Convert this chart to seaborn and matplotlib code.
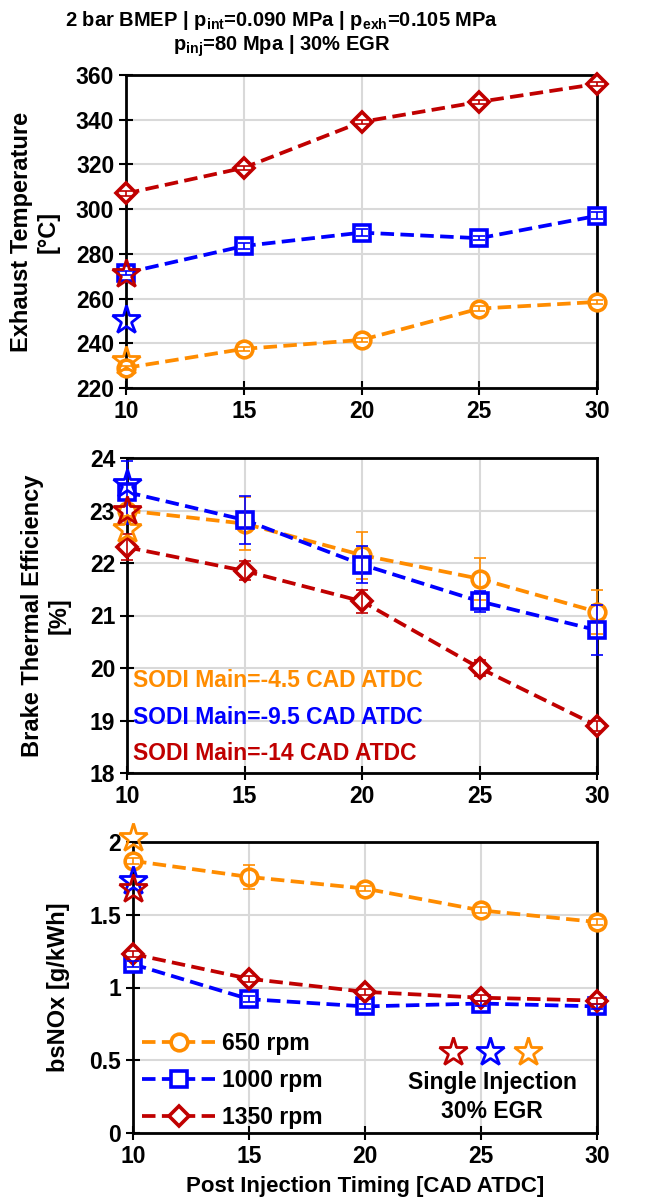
import numpy as np
import pandas as pd
import matplotlib
matplotlib.use("Agg")
import matplotlib.pyplot as plt
from matplotlib.lines import Line2D
from matplotlib.ticker import FuncFormatter
import seaborn as sns

# ---------------- data ----------------
timing = [10, 15, 20, 25, 30]
speeds = ["650 rpm", "1000 rpm", "1350 rpm"]

exh_650 = [229.0, 237.5, 241.5, 255.5, 258.5]
exh_1000 = [271.5, 283.5, 289.5, 287.0, 297.0]
exh_1350 = [307.0, 318.5, 339.0, 348.0, 356.0]
exh_err_650 = [1.0, 1.0, 1.0, 1.0, 1.0]
exh_err_1000 = [1.0, 1.5, 1.5, 1.0, 1.5]
exh_err_1350 = [1.0, 1.0, 1.0, 1.0, 1.0]
exh_single = [232.0, 250.5, 271.0]  # 650, 1000, 1350 rpm

bte_650 = [23.0, 22.75, 22.15, 21.7, 21.07]
bte_1000 = [23.35, 22.82, 21.97, 21.27, 20.72]
bte_1350 = [22.3, 21.85, 21.27, 20.0, 18.9]
bte_err_650 = [0.1, 0.5, 0.45, 0.4, 0.42]
bte_err_1000 = [0.6, 0.45, 0.35, 0.2, 0.48]
bte_err_1350 = [0.25, 0.18, 0.22, 0.15, 0.1]
bte_single = [22.65, 23.5, 23.0]

nox_650 = [1.87, 1.76, 1.68, 1.53, 1.45]
nox_1000 = [1.16, 0.92, 0.87, 0.89, 0.87]
nox_1350 = [1.23, 1.06, 0.97, 0.93, 0.91]
nox_err_650 = [0.02, 0.08, 0.02, 0.02, 0.02]
nox_err_1000 = [0.02, 0.02, 0.02, 0.02, 0.02]
nox_err_1350 = [0.02, 0.02, 0.02, 0.02, 0.02]
nox_single = [2.03, 1.73, 1.68]

sodi_labels = ["SODI Main=-4.5 CAD ATDC", "SODI Main=-9.5 CAD ATDC", "SODI Main=-14 CAD ATDC"]

colors = ["#FF8C00", "#0000FF", "#C00000"]
markers = ["o", "s", "D"]
msizes = [12, 12, 10]

# ---------------- style ----------------
sns.set_theme(style="whitegrid")
plt.rcParams.update({
    "font.family": ["Liberation Sans", "DejaVu Sans"],
    "font.weight": "bold",
    "axes.labelweight": "bold",
    "text.color": "black",
    "axes.labelcolor": "black",
    "xtick.color": "black",
    "ytick.color": "black",
    "axes.edgecolor": "black",
    "axes.linewidth": 2.0,
    "grid.color": "#d9d9d9",
    "grid.linewidth": 1.5,
    "mathtext.fontset": "custom",
    "mathtext.rm": "Liberation Sans:bold",
    "mathtext.it": "Liberation Sans:bold",
    "mathtext.bf": "Liberation Sans:bold",
    "mathtext.default": "rm",
})

fig = plt.figure(figsize=(6.51, 12.02), dpi=100)
W, H = 651.0, 1202.0

def add_ax(left, right, top, bottom):
    return fig.add_axes([left / W, 1 - bottom / H, (right - left) / W, (bottom - top) / H])

ax1 = add_ax(126, 597, 75, 388)
ax2 = add_ax(127, 597, 458, 773)
ax3 = add_ax(133, 597, 842, 1133)

panels = [
    (ax1, [exh_650, exh_1000, exh_1350], [exh_err_650, exh_err_1000, exh_err_1350], exh_single,
     (220, 360), np.arange(220, 361, 20), "Exhaust Temperature\n[°C]"),
    (ax2, [bte_650, bte_1000, bte_1350], [bte_err_650, bte_err_1000, bte_err_1350], bte_single,
     (18, 24), np.arange(18, 24.1, 1), "Brake Thermal Efficiency\n[%]"),
    (ax3, [nox_650, nox_1000, nox_1350], [nox_err_650, nox_err_1000, nox_err_1350], nox_single,
     (0, 2), np.arange(0, 2.01, 0.5), "bsNOx [g/kWh]"),
]

legend_handles = []
for ax, series, errs, single, ylim, yticks, ylabel in panels:
    for i in range(3):
        sns.lineplot(x=timing, y=series[i], ax=ax, color=colors[i],
                     marker=markers[i], markersize=msizes[i],
                     markerfacecolor="white", markeredgecolor=colors[i],
                     markeredgewidth=2.6, linestyle=(0, (3.6, 1.7)), linewidth=2.7,
                     zorder=3, clip_on=False, legend=False)
        if ax is ax3:
            legend_handles.append(ax.lines[-1])
        ax.errorbar(timing, series[i], yerr=errs[i], fmt="none", ecolor=colors[i],
                    elinewidth=1.2, capsize=4, capthick=1.2, zorder=4, clip_on=False)
    # single injection stars at x = 10
    for i in [0, 1, 2]:
        ax.plot([timing[0]], [single[i]], marker="*", markersize=21, markerfacecolor="none",
                markeredgecolor=colors[i], markeredgewidth=2.0, linestyle="none",
                zorder=5, clip_on=False)
    ax.set_xlim(10, 30)
    ax.set_xticks(timing)
    ax.set_ylim(*ylim)
    ax.set_yticks(yticks)
    ax.yaxis.set_major_formatter(FuncFormatter(lambda v, p: f"{v:g}"))
    ax.tick_params(axis="both", direction="inout", length=10, width=1.5,
                   labelsize=16.5, colors="black", left=True, bottom=True)
    ax.set_ylabel(ylabel, fontsize=17, fontweight="bold", color="black", linespacing=1.2)
    ax.grid(True)
    for s in ax.spines.values():
        s.set_color("black")
        s.set_linewidth(2.0)
    ax.set_xlabel("")

ax1.yaxis.set_label_coords(-0.14, 0.5)
ax2.yaxis.set_label_coords(-0.12, 0.5)
ax3.yaxis.set_label_coords(-0.135, 0.5)

ax3.set_xlabel("Post Injection Timing [CAD ATDC]", fontsize=16, fontweight="bold",
               color="black", labelpad=6)

# SODI texts in middle panel
for lab, col, yf in zip(sodi_labels, colors, [0.295, 0.175, 0.063]):
    ax2.text(0.013, yf, lab, transform=ax2.transAxes, color=col, fontsize=16.5,
             fontweight="bold", va="center", ha="left")

# rpm legend
leg = ax3.legend(legend_handles, speeds, loc="lower left", bbox_to_anchor=(-0.01, -0.035),
                 frameon=False, fontsize=16.5, handlelength=3.2, handletextpad=0.3,
                 labelspacing=0.62, borderaxespad=0.2)
for t in leg.get_texts():
    t.set_fontweight("bold")
ax3.add_artist(leg)

# single-injection star key
star_handles = [Line2D([], [], marker="*", markersize=21, markerfacecolor="none",
                       markeredgecolor=c, markeredgewidth=2.0, linestyle="none")
                for c in [colors[2], colors[1], colors[0]]]
leg2 = ax3.legend(star_handles, ["", "", ""], ncol=3, loc="center", bbox_to_anchor=(0.77, 0.275),
                  frameon=False, handlelength=1.0, handletextpad=0.0, columnspacing=1.45,
                  borderpad=0.0)
ax3.text(0.774, 0.124, "Single Injection\n30% EGR", transform=ax3.transAxes, ha="center",
         va="center", fontsize=16.5, fontweight="bold", color="black", linespacing=1.35)

fig.text(282 / W, 1 - 20 / H, r"2 bar BMEP | p$_{int}$=0.090 MPa | p$_{exh}$=0.105 MPa",
         ha="center", va="center", fontsize=14.5, fontweight="bold", color="black")
fig.text(282 / W, 1 - 46 / H, r"p$_{inj}$=80 Mpa | 30% EGR",
         ha="center", va="center", fontsize=14.5, fontweight="bold", color="black")

fig.savefig("out.png", dpi=100, facecolor="white")
